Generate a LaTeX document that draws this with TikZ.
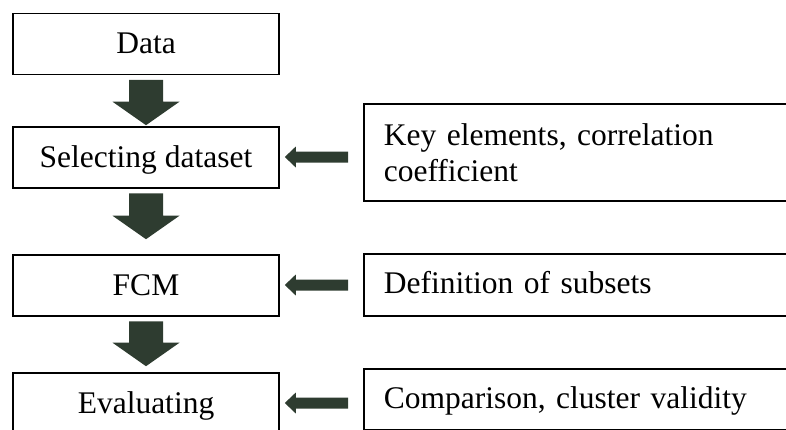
\documentclass[tikz,border=0pt]{standalone}
\usepackage{fontspec}
\setmainfont{Liberation Serif}
\usetikzlibrary{calc}
\definecolor{arrowgreen}{RGB}{46,60,48}
\begin{document}
\begin{tikzpicture}[x=1pt,y=-1pt,
  box/.style={draw=black, line width=1.6pt, rectangle, inner sep=0pt,
    font=\fontsize{31.5}{36}\selectfont},
  stage/.style={box, minimum width=266pt, minimum height=61pt,
    text height=22pt, text depth=3pt},
  inputbox/.style={box, anchor=north west, align=left, text width=430pt,
    inner xsep=20pt},
  oneline/.style={text height=22pt, text depth=4pt},
  blockfill/.style={fill=arrowgreen, draw=none},
  % thick downward block arrow; #1 is the gap left above the target
  down block/.style={to path={
    ($(\tikztostart.south)+(-17,4.5)$) -- ($(\tikztostart.south)+(17,4.5)$)
    -- ($(\tikztotarget.north)+(17,-#1-23.5)$) -- ($(\tikztotarget.north)+(33.5,-#1-23.5)$)
    -- ($(\tikztotarget.north)+(0,-#1)$)
    -- ($(\tikztotarget.north)+(-33.5,-#1-23.5)$) -- ($(\tikztotarget.north)+(-17,-#1-23.5)$)
    -- cycle}},
  % leftward block arrow from an input box to a stage box
  left block/.style={to path={
    ($(\tikztostart.west |- \tikztotarget.east)+(-15,-6)$)
    -- ($(\tikztotarget.east)+(16,-6)$) -- ($(\tikztotarget.east)+(16,-11)$)
    -- ($(\tikztotarget.east)+(5,-0.5)$)
    -- ($(\tikztotarget.east)+(16,10)$) -- ($(\tikztotarget.east)+(16,5)$)
    -- ($(\tikztostart.west |- \tikztotarget.east)+(-15,5)$) -- cycle}}
]
\useasboundingbox (0,0) rectangle (786,429);
\clip (0,0) rectangle (786,429);

% main pipeline
\node[stage] (data) at (146,44)    {Data};
\node[stage] (sel)  at (146,157.5) {Selecting dataset};
\node[stage] (fcm)  at (146,285.5) {FCM};
\node[stage] (eval) at (146,403.5) {Evaluating};

% side inputs (open towards the right edge)
\node[inputbox, minimum height=97pt] (key) at (363,103)
  {Key elements, correlation\\coefficient};
\node[inputbox, oneline, minimum height=62pt] (def) at (363,253)
  {Definition of subsets};
\node[inputbox, oneline, minimum height=61pt] (cmp) at (363,368)
  {Comparison, cluster validity};

% flow arrows
\path[blockfill] (data) to[down block=1]  (sel);
\path[blockfill] (sel)  to[down block=15] (fcm);
\path[blockfill] (fcm)  to[down block=6]  (eval);

\path[blockfill] (key) to[left block] (sel);
\path[blockfill] (def) to[left block] (fcm);
\path[blockfill] (cmp) to[left block] (eval);
\end{tikzpicture}
\end{document}
